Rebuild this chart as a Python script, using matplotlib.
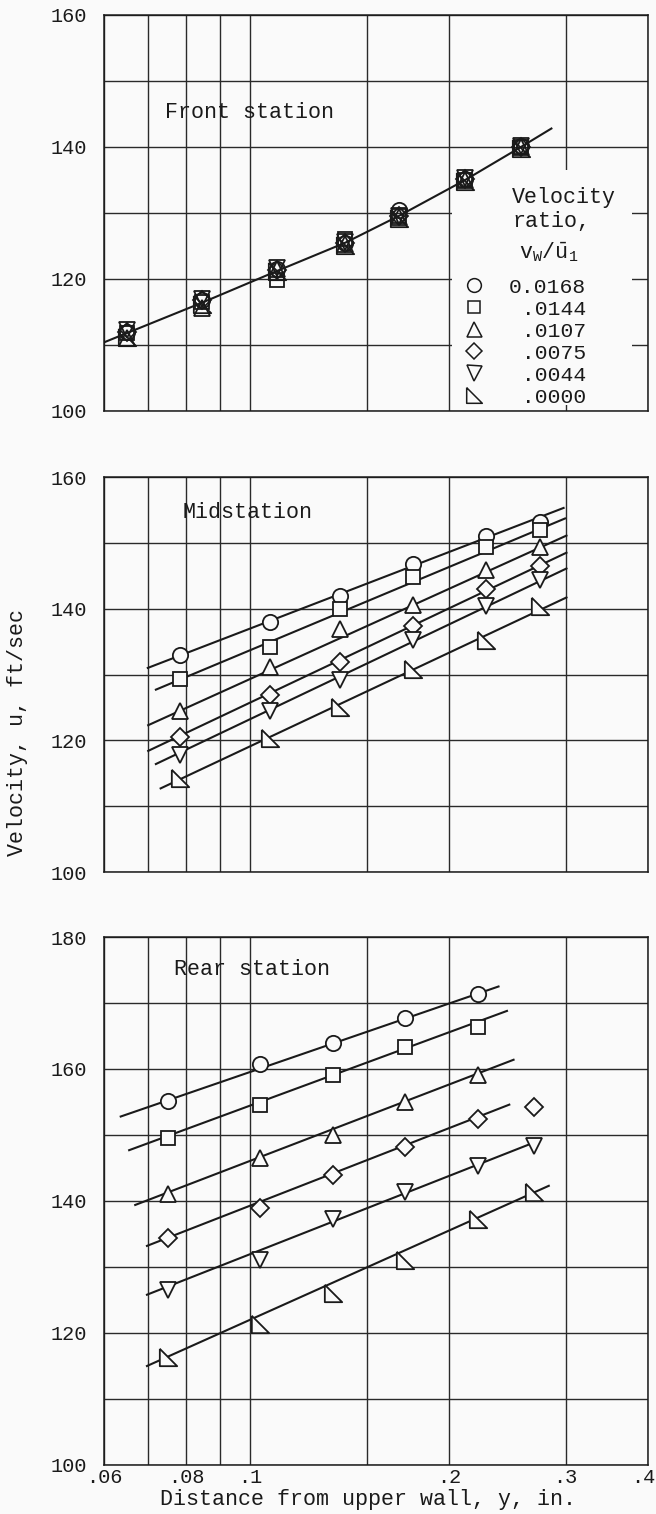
import numpy as np
import matplotlib
matplotlib.use("Agg")
import matplotlib.pyplot as plt
from matplotlib.patches import Rectangle
from matplotlib.lines import Line2D
from matplotlib.transforms import ScaledTranslation
from matplotlib.ticker import FixedLocator, FixedFormatter, NullFormatter, MultipleLocator

plt.rcParams['font.family'] = ['Liberation Mono', 'DejaVu Sans Mono']
plt.rcParams['mathtext.fontset'] = 'custom'
plt.rcParams['mathtext.rm'] = 'Liberation Mono'
plt.rcParams['mathtext.it'] = 'Liberation Mono'

bg = '#fafafa'
ink = '#1a1a1a'

# velocity ratio vw/u1 for each series
ratio_labels = ['0.0168', ' .0144', ' .0107', ' .0075', ' .0044', ' .0000']

# x axis ticks and grid
x_major = [0.06, 0.08, 0.1, 0.2, 0.3, 0.4]
x_major_labels = ['.06', '.08', '.1', '.2', '.3', '.4']
x_minor = [0.07, 0.09, 0.15]

# front station: all ratios fall on one curve
front_x = [0.065, 0.0844, 0.1096, 0.1392, 0.1681, 0.2114, 0.2568]
front_u = [
    [112.0, 116.8, 121.5, 125.5, 130.5, 135.2, 140.2],
    [111.8, 116.5, 119.8, 126.0, 129.5, 135.0, 140.0],
    [111.0, 115.6, 121.5, 125.3, 129.4, 135.0, 140.0],
    [112.0, 116.8, 121.3, 125.5, 129.5, 135.2, 140.0],
    [112.2, 117.0, 121.6, 125.6, 129.6, 135.3, 140.2],
    [111.2, 116.2, 121.2, 125.2, 129.2, 134.9, 139.8],
]
front_fit_x = [0.06, 0.0844, 0.1096, 0.1392, 0.1681, 0.2114, 0.2568, 0.2856]
front_fit_u = [110.4, 116.4, 121.2, 125.5, 129.6, 135.0, 140.0, 142.8]

# midstation
mid_x = [0.0781, 0.1069, 0.1368, 0.1764, 0.2273, 0.2745]
mid_u = [
    [132.9, 137.9, 142.0, 146.8, 151.1, 153.2],
    [129.3, 134.2, 139.9, 144.8, 149.3, 151.9],
    [124.5, 131.1, 136.9, 140.5, 145.8, 149.3],
    [120.5, 126.9, 131.9, 137.4, 143.0, 146.5],
    [117.7, 124.5, 129.1, 135.2, 140.4, 144.3],
    [114.3, 120.4, 125.1, 130.9, 135.2, 140.4],
]
mid_fit_x = [[0.0699, 0.298], [0.0719, 0.2995], [0.0700, 0.301],
             [0.0700, 0.301], [0.0719, 0.301], [0.0731, 0.301]]
mid_fit_u = [[131.0, 155.3], [127.7, 153.7], [122.3, 151.1],
             [118.4, 148.5], [116.4, 146.1], [112.7, 141.7]]

# rear station
rear_x = [0.0751, 0.1034, 0.1333, 0.1717, 0.2208, 0.2692]
rear_u = [
    [155.1, 160.8, 164.0, 167.8, 171.3],
    [149.6, 154.5, 159.1, 163.3, 166.4],
    [141.0, 146.5, 150.0, 155.0, 159.1],
    [134.4, 139.0, 143.9, 148.2, 152.5, 154.3],
    [126.5, 131.1, 137.3, 141.3, 145.3, 148.3],
    [116.4, 121.4, 126.1, 131.1, 137.3, 141.3],
]
rear_fit_x = [[0.0636, 0.2375], [0.0655, 0.2446], [0.0669, 0.2503],
              [0.0697, 0.2466], [0.0697, 0.271], [0.0697, 0.283]]
rear_fit_u = [[152.8, 172.5], [147.7, 168.8], [139.4, 161.4],
              [133.2, 154.6], [125.8, 149.0], [115.0, 142.3]]

right_tri = [(-1, 1), (-1, -1), (1, -1), (-1, 1)]
markers = ['o', 's', '^', 'D', 'v', right_tri]
msizes = [11, 9.8, 12, 9.6, 12, 12.5]


def style_axis(ax, ymax, show_x):
    ax.set_facecolor(bg)
    ax.set_xscale('log')
    ax.set_xlim(0.06, 0.4)
    ax.set_ylim(100, ymax)
    ax.xaxis.set_major_locator(FixedLocator(x_major))
    ax.xaxis.set_minor_locator(FixedLocator(x_minor))
    ax.xaxis.set_minor_formatter(NullFormatter())
    if show_x:
        ax.xaxis.set_major_formatter(FixedFormatter(x_major_labels))
    else:
        ax.xaxis.set_major_formatter(NullFormatter())
    ax.yaxis.set_major_locator(MultipleLocator(20))
    ax.yaxis.set_minor_locator(MultipleLocator(10))
    ax.tick_params(which='both', length=0, labelsize=14.6, colors=ink)
    ax.tick_params(axis='y', pad=12)
    ax.tick_params(axis='x', pad=2)
    ax.grid(which='both', color='#2a2a2a', lw=1.0)
    ax.set_axisbelow(True)
    for s in ax.spines.values():
        s.set_linewidth(1.1)
        s.set_color(ink)


def draw_series(ax, xs, us, fill):
    for i in range(len(us)):
        n = len(us[i])
        ax.plot(xs[:n], us[i], linestyle='none', marker=markers[i], ms=msizes[i],
                mfc=fill, mec=ink, mew=1.3, zorder=3)


fig = plt.figure(figsize=(6.56, 15.14), dpi=100, facecolor=bg)
left, width = 104 / 656, 544 / 656
ax_front = fig.add_axes([left, 1 - 411 / 1514, width, 396 / 1514])
ax_mid = fig.add_axes([left, 1 - 872 / 1514, width, 395 / 1514])
ax_rear = fig.add_axes([left, 1 - 1465 / 1514, width, 528 / 1514])

style_axis(ax_front, 160, False)
style_axis(ax_mid, 160, False)
style_axis(ax_rear, 180, True)

# front station
ax_front.plot(front_fit_x, front_fit_u, color=ink, lw=1.5, zorder=2)
draw_series(ax_front, front_x, front_u, 'none')
ax_front.text(0.112, 0.753, 'Front station', transform=ax_front.transAxes,
              fontsize=15.6, va='center', ha='left', color=ink)

# legend block
ax_front.add_patch(Rectangle((0.640, 0.015), 0.331, 0.594, transform=ax_front.transAxes,
                             fc=bg, ec='none', zorder=1.5))
ax_front.text(0.75, 0.509, 'Velocity\nratio,', transform=ax_front.transAxes,
              fontsize=15.6, va='center', ha='left', color=ink, zorder=4)
ax_front.text(0.762, 0.400, r'$\mathrm{v_W/\bar{u}_1}$', transform=ax_front.transAxes,
              fontsize=15.6, va='center', ha='left', color=ink, zorder=4)
handles = [Line2D([], [], linestyle='none', marker=markers[i], ms=msizes[i] * 0.9,
                  mfc='none', mec=ink, mew=1.1) for i in range(6)]
leg = ax_front.legend(handles, ratio_labels, loc='upper left',
                      bbox_to_anchor=(0.660, 0.336), frameon=False, borderpad=0,
                      borderaxespad=0, handlelength=1.0, handletextpad=1.15,
                      labelspacing=0.14, prop={'family': 'Liberation Mono', 'size': 15.4})
for t in leg.get_texts():
    t.set_color(ink)

# midstation
for i in range(6):
    ax_mid.plot(mid_fit_x[i], mid_fit_u[i], color=ink, lw=1.5, zorder=2)
draw_series(ax_mid, mid_x, mid_u, bg)
ax_mid.text(0.144, 0.910, 'Midstation', transform=ax_mid.transAxes,
            fontsize=15.6, va='center', ha='left', color=ink)

# rear station
for i in range(6):
    ax_rear.plot(rear_fit_x[i], rear_fit_u[i], color=ink, lw=1.5, zorder=2)
draw_series(ax_rear, rear_x, rear_u, bg)
ax_rear.text(0.129, 0.939, 'Rear station', transform=ax_rear.transAxes,
             fontsize=15.6, va='center', ha='left', color=ink)

# keep the ".4" label inside the picture
last = ax_rear.get_xticklabels()[-1]
last.set_transform(last.get_transform() + ScaledTranslation(-5 / 100, 0, fig.dpi_scale_trans))

fig.text(368 / 656, 1 - 1500 / 1514, 'Distance from upper wall, y, in.',
         fontsize=15.6, va='center', ha='center', color=ink)
fig.text(18 / 656, 1 - 733 / 1514, 'Velocity, u, ft/sec', rotation=90,
         fontsize=15.6, va='center', ha='center', color=ink)

fig.savefig('out.png', dpi=100, facecolor=bg)
